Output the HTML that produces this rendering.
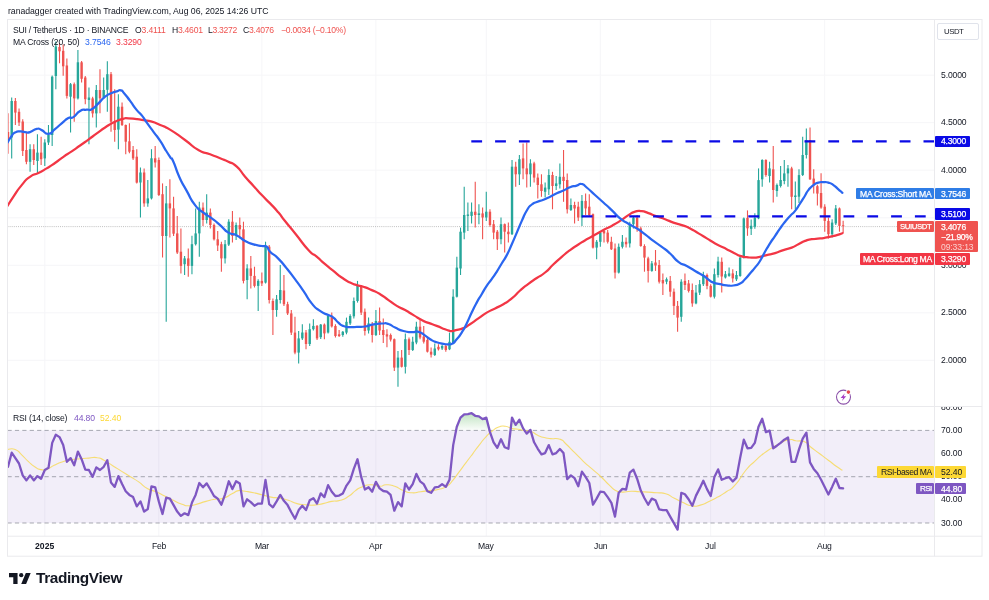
<!DOCTYPE html>
<html><head><meta charset="utf-8"><title>SUIUSDT chart</title>
<style>
html,body{margin:0;padding:0;background:#fff;}
body{width:989px;height:600px;position:relative;overflow:hidden;font-family:"Liberation Sans",sans-serif;}
.t{position:absolute;white-space:nowrap;line-height:12px;height:12px;font-family:"Liberation Sans",sans-serif;will-change:transform;}
</style></head><body>
<svg width="989" height="600" viewBox="0 0 989 600" style="position:absolute;left:0;top:0">
<rect x="0" y="0" width="989" height="600" fill="#ffffff"/>
<defs><clipPath id="cm"><rect x="8.0" y="20.0" width="926.0" height="386.0"/></clipPath>
<clipPath id="cr"><rect x="8.0" y="407.0" width="926.0" height="128.70000000000005"/></clipPath>
<clipPath id="ca"><rect x="934.5" y="407.3" width="47.5" height="128.70000000000005"/></clipPath>
<linearGradient id="ob" x1="0" y1="0" x2="0" y2="1"><stop offset="0" stop-color="#4caf50" stop-opacity="0.35"/><stop offset="1" stop-color="#4caf50" stop-opacity="0.02"/></linearGradient>
</defs>
<line x1="44.8" y1="19.5" x2="44.8" y2="536.2" stroke="#f6f6f8" stroke-width="1"/>
<line x1="158.8" y1="19.5" x2="158.8" y2="536.2" stroke="#f6f6f8" stroke-width="1"/>
<line x1="261.9" y1="19.5" x2="261.9" y2="536.2" stroke="#f6f6f8" stroke-width="1"/>
<line x1="375.9" y1="19.5" x2="375.9" y2="536.2" stroke="#f6f6f8" stroke-width="1"/>
<line x1="486.3" y1="19.5" x2="486.3" y2="536.2" stroke="#f6f6f8" stroke-width="1"/>
<line x1="600.3" y1="19.5" x2="600.3" y2="536.2" stroke="#f6f6f8" stroke-width="1"/>
<line x1="710.7" y1="19.5" x2="710.7" y2="536.2" stroke="#f6f6f8" stroke-width="1"/>
<line x1="824.7" y1="19.5" x2="824.7" y2="536.2" stroke="#f6f6f8" stroke-width="1"/>
<line x1="7.5" y1="75.2" x2="934.5" y2="75.2" stroke="#f6f6f8" stroke-width="1"/>
<line x1="7.5" y1="122.7" x2="934.5" y2="122.7" stroke="#f6f6f8" stroke-width="1"/>
<line x1="7.5" y1="170.2" x2="934.5" y2="170.2" stroke="#f6f6f8" stroke-width="1"/>
<line x1="7.5" y1="217.8" x2="934.5" y2="217.8" stroke="#f6f6f8" stroke-width="1"/>
<line x1="7.5" y1="265.3" x2="934.5" y2="265.3" stroke="#f6f6f8" stroke-width="1"/>
<line x1="7.5" y1="312.8" x2="934.5" y2="312.8" stroke="#f6f6f8" stroke-width="1"/>
<line x1="7.5" y1="360.3" x2="934.5" y2="360.3" stroke="#f6f6f8" stroke-width="1"/>
<rect x="7.5" y="430.4" width="927.0" height="92.6" fill="#7e57c2" fill-opacity="0.1"/>
<line x1="7.5" y1="430.4" x2="934.5" y2="430.4" stroke="#787b86" stroke-width="0.8" stroke-dasharray="4.2 3.2" stroke-opacity="0.8"/>
<line x1="7.5" y1="476.7" x2="934.5" y2="476.7" stroke="#787b86" stroke-width="0.8" stroke-dasharray="4.2 3.2" stroke-opacity="0.8"/>
<line x1="7.5" y1="523.0" x2="934.5" y2="523.0" stroke="#787b86" stroke-width="0.8" stroke-dasharray="4.2 3.2" stroke-opacity="0.8"/>
<rect x="7.5" y="19.5" width="974.5" height="536.7" fill="none" stroke="#eaeaed" stroke-width="1"/>
<line x1="934.5" y1="19.5" x2="934.5" y2="556.2" stroke="#eaeaed" stroke-width="1"/>
<line x1="7.5" y1="406.5" x2="982" y2="406.5" stroke="#eaeaed" stroke-width="1.2"/>
<line x1="7.5" y1="536.2" x2="982" y2="536.2" stroke="#eaeaed" stroke-width="1"/>
<g clip-path="url(#cm)">
<line x1="7.5" y1="226.6" x2="934.5" y2="226.6" stroke="#9e9e9e" stroke-width="0.8" stroke-dasharray="1 1.1" stroke-opacity="0.8"/>
<line x1="8.01" y1="113.2" x2="8.01" y2="153.7" stroke="#ef5350" stroke-width="1.1"/>
<rect x="6.81" y="132.0" width="2.4" height="8.0" fill="#ef5350"/>
<line x1="11.69" y1="97.6" x2="11.69" y2="158.4" stroke="#26a69a" stroke-width="1.1"/>
<rect x="10.49" y="101.0" width="2.4" height="36.5" fill="#26a69a"/>
<line x1="15.37" y1="98.0" x2="15.37" y2="125.0" stroke="#ef5350" stroke-width="1.1"/>
<rect x="14.17" y="101.0" width="2.4" height="11.6" fill="#ef5350"/>
<line x1="19.05" y1="108.4" x2="19.05" y2="126.0" stroke="#ef5350" stroke-width="1.1"/>
<rect x="17.85" y="111.8" width="2.4" height="10.7" fill="#ef5350"/>
<line x1="22.73" y1="119.3" x2="22.73" y2="156.0" stroke="#ef5350" stroke-width="1.1"/>
<rect x="21.53" y="121.5" width="2.4" height="29.5" fill="#ef5350"/>
<line x1="26.40" y1="131.7" x2="26.40" y2="164.3" stroke="#ef5350" stroke-width="1.1"/>
<rect x="25.20" y="150.0" width="2.4" height="11.8" fill="#ef5350"/>
<line x1="30.08" y1="144.2" x2="30.08" y2="171.8" stroke="#26a69a" stroke-width="1.1"/>
<rect x="28.88" y="149.2" width="2.4" height="12.6" fill="#26a69a"/>
<line x1="33.76" y1="144.2" x2="33.76" y2="165.0" stroke="#ef5350" stroke-width="1.1"/>
<rect x="32.56" y="149.2" width="2.4" height="10.8" fill="#ef5350"/>
<line x1="37.44" y1="134.2" x2="37.44" y2="173.4" stroke="#26a69a" stroke-width="1.1"/>
<rect x="36.24" y="152.6" width="2.4" height="8.4" fill="#26a69a"/>
<line x1="41.12" y1="136.7" x2="41.12" y2="165.0" stroke="#ef5350" stroke-width="1.1"/>
<rect x="39.92" y="152.6" width="2.4" height="6.6" fill="#ef5350"/>
<line x1="44.80" y1="139.2" x2="44.80" y2="166.0" stroke="#26a69a" stroke-width="1.1"/>
<rect x="43.60" y="142.5" width="2.4" height="15.9" fill="#26a69a"/>
<line x1="48.48" y1="125.0" x2="48.48" y2="145.0" stroke="#26a69a" stroke-width="1.1"/>
<rect x="47.28" y="135.0" width="2.4" height="7.5" fill="#26a69a"/>
<line x1="52.16" y1="75.5" x2="52.16" y2="146.0" stroke="#26a69a" stroke-width="1.1"/>
<rect x="50.96" y="76.7" width="2.4" height="58.3" fill="#26a69a"/>
<line x1="55.84" y1="41.5" x2="55.84" y2="89.2" stroke="#26a69a" stroke-width="1.1"/>
<rect x="54.64" y="46.5" width="2.4" height="29.5" fill="#26a69a"/>
<line x1="59.52" y1="43.0" x2="59.52" y2="63.3" stroke="#ef5350" stroke-width="1.1"/>
<rect x="58.32" y="47.0" width="2.4" height="4.3" fill="#ef5350"/>
<line x1="63.19" y1="44.6" x2="63.19" y2="75.8" stroke="#ef5350" stroke-width="1.1"/>
<rect x="61.99" y="50.8" width="2.4" height="15.5" fill="#ef5350"/>
<line x1="66.87" y1="58.4" x2="66.87" y2="98.4" stroke="#ef5350" stroke-width="1.1"/>
<rect x="65.67" y="65.5" width="2.4" height="30.4" fill="#ef5350"/>
<line x1="70.55" y1="83.0" x2="70.55" y2="132.5" stroke="#26a69a" stroke-width="1.1"/>
<rect x="69.35" y="84.2" width="2.4" height="12.5" fill="#26a69a"/>
<line x1="74.23" y1="82.5" x2="74.23" y2="121.7" stroke="#ef5350" stroke-width="1.1"/>
<rect x="73.03" y="84.2" width="2.4" height="14.2" fill="#ef5350"/>
<line x1="77.91" y1="50.0" x2="77.91" y2="99.5" stroke="#26a69a" stroke-width="1.1"/>
<rect x="76.71" y="62.3" width="2.4" height="36.1" fill="#26a69a"/>
<line x1="81.59" y1="60.9" x2="81.59" y2="82.5" stroke="#ef5350" stroke-width="1.1"/>
<rect x="80.39" y="62.3" width="2.4" height="16.5" fill="#ef5350"/>
<line x1="85.27" y1="76.0" x2="85.27" y2="104.2" stroke="#ef5350" stroke-width="1.1"/>
<rect x="84.07" y="77.5" width="2.4" height="21.7" fill="#ef5350"/>
<line x1="88.95" y1="87.5" x2="88.95" y2="144.2" stroke="#26a69a" stroke-width="1.1"/>
<rect x="87.75" y="97.5" width="2.4" height="2.5" fill="#26a69a"/>
<line x1="92.63" y1="96.7" x2="92.63" y2="117.5" stroke="#ef5350" stroke-width="1.1"/>
<rect x="91.43" y="98.4" width="2.4" height="15.0" fill="#ef5350"/>
<line x1="96.31" y1="85.0" x2="96.31" y2="127.5" stroke="#26a69a" stroke-width="1.1"/>
<rect x="95.11" y="90.0" width="2.4" height="23.4" fill="#26a69a"/>
<line x1="99.98" y1="69.2" x2="99.98" y2="113.3" stroke="#ef5350" stroke-width="1.1"/>
<rect x="98.78" y="90.0" width="2.4" height="8.3" fill="#ef5350"/>
<line x1="103.66" y1="77.5" x2="103.66" y2="99.0" stroke="#26a69a" stroke-width="1.1"/>
<rect x="102.46" y="90.0" width="2.4" height="7.5" fill="#26a69a"/>
<line x1="107.34" y1="61.3" x2="107.34" y2="111.7" stroke="#26a69a" stroke-width="1.1"/>
<rect x="106.14" y="74.2" width="2.4" height="15.6" fill="#26a69a"/>
<line x1="111.02" y1="72.0" x2="111.02" y2="131.7" stroke="#ef5350" stroke-width="1.1"/>
<rect x="109.82" y="74.2" width="2.4" height="47.5" fill="#ef5350"/>
<line x1="114.70" y1="89.2" x2="114.70" y2="141.7" stroke="#ef5350" stroke-width="1.1"/>
<rect x="113.50" y="121.7" width="2.4" height="8.3" fill="#ef5350"/>
<line x1="118.38" y1="94.2" x2="118.38" y2="149.2" stroke="#26a69a" stroke-width="1.1"/>
<rect x="117.18" y="106.7" width="2.4" height="22.9" fill="#26a69a"/>
<line x1="122.06" y1="102.6" x2="122.06" y2="126.0" stroke="#ef5350" stroke-width="1.1"/>
<rect x="120.86" y="106.7" width="2.4" height="18.3" fill="#ef5350"/>
<line x1="125.74" y1="124.6" x2="125.74" y2="154.2" stroke="#ef5350" stroke-width="1.1"/>
<rect x="124.54" y="125.0" width="2.4" height="16.7" fill="#ef5350"/>
<line x1="129.42" y1="123.3" x2="129.42" y2="153.3" stroke="#ef5350" stroke-width="1.1"/>
<rect x="128.22" y="141.3" width="2.4" height="10.4" fill="#ef5350"/>
<line x1="133.10" y1="145.9" x2="133.10" y2="160.0" stroke="#ef5350" stroke-width="1.1"/>
<rect x="131.90" y="150.0" width="2.4" height="8.4" fill="#ef5350"/>
<line x1="136.77" y1="149.2" x2="136.77" y2="183.5" stroke="#ef5350" stroke-width="1.1"/>
<rect x="135.57" y="156.7" width="2.4" height="25.9" fill="#ef5350"/>
<line x1="140.45" y1="167.5" x2="140.45" y2="217.6" stroke="#26a69a" stroke-width="1.1"/>
<rect x="139.25" y="172.5" width="2.4" height="10.0" fill="#26a69a"/>
<line x1="144.13" y1="168.4" x2="144.13" y2="206.8" stroke="#ef5350" stroke-width="1.1"/>
<rect x="142.93" y="172.5" width="2.4" height="30.9" fill="#ef5350"/>
<line x1="147.81" y1="180.0" x2="147.81" y2="206.8" stroke="#26a69a" stroke-width="1.1"/>
<rect x="146.61" y="198.4" width="2.4" height="5.0" fill="#26a69a"/>
<line x1="151.49" y1="149.2" x2="151.49" y2="199.5" stroke="#26a69a" stroke-width="1.1"/>
<rect x="150.29" y="158.3" width="2.4" height="40.1" fill="#26a69a"/>
<line x1="155.17" y1="145.9" x2="155.17" y2="167.5" stroke="#ef5350" stroke-width="1.1"/>
<rect x="153.97" y="158.3" width="2.4" height="4.2" fill="#ef5350"/>
<line x1="158.85" y1="157.5" x2="158.85" y2="196.0" stroke="#ef5350" stroke-width="1.1"/>
<rect x="157.65" y="160.0" width="2.4" height="35.0" fill="#ef5350"/>
<line x1="162.53" y1="183.4" x2="162.53" y2="257.5" stroke="#ef5350" stroke-width="1.1"/>
<rect x="161.33" y="194.2" width="2.4" height="41.8" fill="#ef5350"/>
<line x1="166.21" y1="185.9" x2="166.21" y2="321.8" stroke="#26a69a" stroke-width="1.1"/>
<rect x="165.01" y="203.4" width="2.4" height="32.6" fill="#26a69a"/>
<line x1="169.89" y1="179.2" x2="169.89" y2="237.5" stroke="#ef5350" stroke-width="1.1"/>
<rect x="168.69" y="203.4" width="2.4" height="5.0" fill="#ef5350"/>
<line x1="173.56" y1="196.7" x2="173.56" y2="236.0" stroke="#ef5350" stroke-width="1.1"/>
<rect x="172.37" y="208.4" width="2.4" height="25.3" fill="#ef5350"/>
<line x1="177.24" y1="216.0" x2="177.24" y2="254.0" stroke="#ef5350" stroke-width="1.1"/>
<rect x="176.04" y="233.4" width="2.4" height="19.1" fill="#ef5350"/>
<line x1="180.92" y1="228.4" x2="180.92" y2="273.4" stroke="#ef5350" stroke-width="1.1"/>
<rect x="179.72" y="251.7" width="2.4" height="14.2" fill="#ef5350"/>
<line x1="184.60" y1="255.9" x2="184.60" y2="275.0" stroke="#26a69a" stroke-width="1.1"/>
<rect x="183.40" y="258.4" width="2.4" height="5.8" fill="#26a69a"/>
<line x1="188.28" y1="248.4" x2="188.28" y2="276.7" stroke="#ef5350" stroke-width="1.1"/>
<rect x="187.08" y="258.4" width="2.4" height="7.5" fill="#ef5350"/>
<line x1="191.96" y1="235.8" x2="191.96" y2="274.2" stroke="#26a69a" stroke-width="1.1"/>
<rect x="190.76" y="244.2" width="2.4" height="21.7" fill="#26a69a"/>
<line x1="195.64" y1="208.4" x2="195.64" y2="245.5" stroke="#26a69a" stroke-width="1.1"/>
<rect x="194.44" y="233.4" width="2.4" height="10.8" fill="#26a69a"/>
<line x1="199.32" y1="201.7" x2="199.32" y2="256.7" stroke="#26a69a" stroke-width="1.1"/>
<rect x="198.12" y="207.6" width="2.4" height="25.8" fill="#26a69a"/>
<line x1="203.00" y1="202.6" x2="203.00" y2="226.0" stroke="#ef5350" stroke-width="1.1"/>
<rect x="201.80" y="207.6" width="2.4" height="12.4" fill="#ef5350"/>
<line x1="206.68" y1="194.2" x2="206.68" y2="223.4" stroke="#26a69a" stroke-width="1.1"/>
<rect x="205.48" y="212.6" width="2.4" height="7.4" fill="#26a69a"/>
<line x1="210.35" y1="208.4" x2="210.35" y2="228.4" stroke="#ef5350" stroke-width="1.1"/>
<rect x="209.15" y="212.6" width="2.4" height="12.4" fill="#ef5350"/>
<line x1="214.03" y1="223.5" x2="214.03" y2="240.5" stroke="#ef5350" stroke-width="1.1"/>
<rect x="212.83" y="225.0" width="2.4" height="14.3" fill="#ef5350"/>
<line x1="217.71" y1="231.0" x2="217.71" y2="250.9" stroke="#ef5350" stroke-width="1.1"/>
<rect x="216.51" y="239.3" width="2.4" height="6.2" fill="#ef5350"/>
<line x1="221.39" y1="241.7" x2="221.39" y2="271.7" stroke="#ef5350" stroke-width="1.1"/>
<rect x="220.19" y="244.2" width="2.4" height="14.2" fill="#ef5350"/>
<line x1="225.07" y1="240.0" x2="225.07" y2="263.4" stroke="#26a69a" stroke-width="1.1"/>
<rect x="223.87" y="244.2" width="2.4" height="14.2" fill="#26a69a"/>
<line x1="228.75" y1="219.2" x2="228.75" y2="246.0" stroke="#26a69a" stroke-width="1.1"/>
<rect x="227.55" y="221.7" width="2.4" height="22.9" fill="#26a69a"/>
<line x1="232.43" y1="210.9" x2="232.43" y2="242.5" stroke="#ef5350" stroke-width="1.1"/>
<rect x="231.23" y="221.7" width="2.4" height="14.3" fill="#ef5350"/>
<line x1="236.11" y1="222.6" x2="236.11" y2="240.0" stroke="#26a69a" stroke-width="1.1"/>
<rect x="234.91" y="225.0" width="2.4" height="11.0" fill="#26a69a"/>
<line x1="239.79" y1="217.6" x2="239.79" y2="238.5" stroke="#ef5350" stroke-width="1.1"/>
<rect x="238.59" y="225.0" width="2.4" height="4.3" fill="#ef5350"/>
<line x1="243.47" y1="221.7" x2="243.47" y2="283.4" stroke="#ef5350" stroke-width="1.1"/>
<rect x="242.27" y="229.3" width="2.4" height="51.6" fill="#ef5350"/>
<line x1="247.14" y1="264.2" x2="247.14" y2="299.3" stroke="#26a69a" stroke-width="1.1"/>
<rect x="245.94" y="268.4" width="2.4" height="11.6" fill="#26a69a"/>
<line x1="250.82" y1="255.9" x2="250.82" y2="288.4" stroke="#ef5350" stroke-width="1.1"/>
<rect x="249.62" y="268.4" width="2.4" height="7.5" fill="#ef5350"/>
<line x1="254.50" y1="266.7" x2="254.50" y2="287.5" stroke="#ef5350" stroke-width="1.1"/>
<rect x="253.30" y="275.9" width="2.4" height="10.0" fill="#ef5350"/>
<line x1="258.18" y1="279.2" x2="258.18" y2="311.0" stroke="#26a69a" stroke-width="1.1"/>
<rect x="256.98" y="280.9" width="2.4" height="5.0" fill="#26a69a"/>
<line x1="261.86" y1="272.6" x2="261.86" y2="286.0" stroke="#ef5350" stroke-width="1.1"/>
<rect x="260.66" y="280.9" width="2.4" height="2.5" fill="#ef5350"/>
<line x1="265.54" y1="241.7" x2="265.54" y2="283.5" stroke="#26a69a" stroke-width="1.1"/>
<rect x="264.34" y="246.7" width="2.4" height="35.9" fill="#26a69a"/>
<line x1="269.22" y1="245.0" x2="269.22" y2="303.5" stroke="#ef5350" stroke-width="1.1"/>
<rect x="268.02" y="246.7" width="2.4" height="53.3" fill="#ef5350"/>
<line x1="272.90" y1="298.4" x2="272.90" y2="335.0" stroke="#ef5350" stroke-width="1.1"/>
<rect x="271.70" y="301.0" width="2.4" height="9.0" fill="#ef5350"/>
<line x1="276.58" y1="295.0" x2="276.58" y2="316.8" stroke="#26a69a" stroke-width="1.1"/>
<rect x="275.38" y="299.3" width="2.4" height="10.7" fill="#26a69a"/>
<line x1="280.26" y1="265.0" x2="280.26" y2="303.4" stroke="#26a69a" stroke-width="1.1"/>
<rect x="279.06" y="290.0" width="2.4" height="10.0" fill="#26a69a"/>
<line x1="283.94" y1="275.0" x2="283.94" y2="306.0" stroke="#ef5350" stroke-width="1.1"/>
<rect x="282.74" y="290.5" width="2.4" height="13.7" fill="#ef5350"/>
<line x1="287.61" y1="301.7" x2="287.61" y2="315.0" stroke="#ef5350" stroke-width="1.1"/>
<rect x="286.41" y="304.2" width="2.4" height="9.2" fill="#ef5350"/>
<line x1="291.29" y1="310.0" x2="291.29" y2="335.0" stroke="#ef5350" stroke-width="1.1"/>
<rect x="290.09" y="313.4" width="2.4" height="19.2" fill="#ef5350"/>
<line x1="294.97" y1="316.8" x2="294.97" y2="354.2" stroke="#ef5350" stroke-width="1.1"/>
<rect x="293.77" y="332.6" width="2.4" height="20.0" fill="#ef5350"/>
<line x1="298.65" y1="330.9" x2="298.65" y2="363.4" stroke="#26a69a" stroke-width="1.1"/>
<rect x="297.45" y="338.4" width="2.4" height="14.2" fill="#26a69a"/>
<line x1="302.33" y1="324.2" x2="302.33" y2="340.0" stroke="#26a69a" stroke-width="1.1"/>
<rect x="301.13" y="332.5" width="2.4" height="5.9" fill="#26a69a"/>
<line x1="306.01" y1="330.0" x2="306.01" y2="349.2" stroke="#ef5350" stroke-width="1.1"/>
<rect x="304.81" y="332.5" width="2.4" height="11.5" fill="#ef5350"/>
<line x1="309.69" y1="323.4" x2="309.69" y2="346.0" stroke="#26a69a" stroke-width="1.1"/>
<rect x="308.49" y="329.2" width="2.4" height="14.8" fill="#26a69a"/>
<line x1="313.37" y1="319.2" x2="313.37" y2="330.5" stroke="#26a69a" stroke-width="1.1"/>
<rect x="312.17" y="325.9" width="2.4" height="3.3" fill="#26a69a"/>
<line x1="317.05" y1="325.0" x2="317.05" y2="340.0" stroke="#ef5350" stroke-width="1.1"/>
<rect x="315.85" y="325.9" width="2.4" height="12.5" fill="#ef5350"/>
<line x1="320.73" y1="324.0" x2="320.73" y2="339.0" stroke="#26a69a" stroke-width="1.1"/>
<rect x="319.53" y="324.6" width="2.4" height="12.6" fill="#26a69a"/>
<line x1="324.40" y1="323.4" x2="324.40" y2="339.2" stroke="#ef5350" stroke-width="1.1"/>
<rect x="323.20" y="324.6" width="2.4" height="8.8" fill="#ef5350"/>
<line x1="328.08" y1="314.2" x2="328.08" y2="333.5" stroke="#26a69a" stroke-width="1.1"/>
<rect x="326.88" y="315.9" width="2.4" height="16.6" fill="#26a69a"/>
<line x1="331.76" y1="312.5" x2="331.76" y2="327.6" stroke="#ef5350" stroke-width="1.1"/>
<rect x="330.56" y="315.9" width="2.4" height="10.5" fill="#ef5350"/>
<line x1="335.44" y1="324.3" x2="335.44" y2="337.6" stroke="#ef5350" stroke-width="1.1"/>
<rect x="334.24" y="326.0" width="2.4" height="10.0" fill="#ef5350"/>
<line x1="339.12" y1="330.0" x2="339.12" y2="337.0" stroke="#ef5350" stroke-width="1.1"/>
<rect x="337.92" y="334.3" width="2.4" height="1.7" fill="#ef5350"/>
<line x1="342.80" y1="331.0" x2="342.80" y2="336.8" stroke="#26a69a" stroke-width="1.1"/>
<rect x="341.60" y="331.8" width="2.4" height="3.2" fill="#26a69a"/>
<line x1="346.48" y1="317.6" x2="346.48" y2="334.3" stroke="#26a69a" stroke-width="1.1"/>
<rect x="345.28" y="321.8" width="2.4" height="10.8" fill="#26a69a"/>
<line x1="350.16" y1="314.3" x2="350.16" y2="325.0" stroke="#26a69a" stroke-width="1.1"/>
<rect x="348.96" y="316.0" width="2.4" height="7.4" fill="#26a69a"/>
<line x1="353.84" y1="297.6" x2="353.84" y2="318.4" stroke="#26a69a" stroke-width="1.1"/>
<rect x="352.64" y="301.0" width="2.4" height="15.3" fill="#26a69a"/>
<line x1="357.51" y1="280.9" x2="357.51" y2="302.6" stroke="#26a69a" stroke-width="1.1"/>
<rect x="356.31" y="285.9" width="2.4" height="15.1" fill="#26a69a"/>
<line x1="361.19" y1="285.0" x2="361.19" y2="315.0" stroke="#ef5350" stroke-width="1.1"/>
<rect x="359.99" y="285.9" width="2.4" height="26.7" fill="#ef5350"/>
<line x1="364.87" y1="308.4" x2="364.87" y2="335.5" stroke="#ef5350" stroke-width="1.1"/>
<rect x="363.67" y="311.8" width="2.4" height="19.2" fill="#ef5350"/>
<line x1="368.55" y1="317.6" x2="368.55" y2="333.4" stroke="#26a69a" stroke-width="1.1"/>
<rect x="367.35" y="323.4" width="2.4" height="7.1" fill="#26a69a"/>
<line x1="372.23" y1="322.0" x2="372.23" y2="342.6" stroke="#ef5350" stroke-width="1.1"/>
<rect x="371.03" y="324.6" width="2.4" height="10.4" fill="#ef5350"/>
<line x1="375.91" y1="310.0" x2="375.91" y2="336.0" stroke="#26a69a" stroke-width="1.1"/>
<rect x="374.71" y="321.0" width="2.4" height="14.0" fill="#26a69a"/>
<line x1="379.59" y1="307.6" x2="379.59" y2="335.0" stroke="#ef5350" stroke-width="1.1"/>
<rect x="378.39" y="321.0" width="2.4" height="9.5" fill="#ef5350"/>
<line x1="383.27" y1="318.4" x2="383.27" y2="343.0" stroke="#ef5350" stroke-width="1.1"/>
<rect x="382.07" y="330.0" width="2.4" height="5.0" fill="#ef5350"/>
<line x1="386.95" y1="329.2" x2="386.95" y2="347.2" stroke="#ef5350" stroke-width="1.1"/>
<rect x="385.75" y="334.3" width="2.4" height="2.2" fill="#ef5350"/>
<line x1="390.63" y1="333.4" x2="390.63" y2="341.5" stroke="#ef5350" stroke-width="1.1"/>
<rect x="389.43" y="335.0" width="2.4" height="4.6" fill="#ef5350"/>
<line x1="394.31" y1="338.4" x2="394.31" y2="371.0" stroke="#ef5350" stroke-width="1.1"/>
<rect x="393.11" y="339.2" width="2.4" height="28.4" fill="#ef5350"/>
<line x1="397.98" y1="350.9" x2="397.98" y2="386.8" stroke="#26a69a" stroke-width="1.1"/>
<rect x="396.78" y="357.6" width="2.4" height="10.0" fill="#26a69a"/>
<line x1="401.66" y1="350.0" x2="401.66" y2="367.6" stroke="#ef5350" stroke-width="1.1"/>
<rect x="400.46" y="357.6" width="2.4" height="9.2" fill="#ef5350"/>
<line x1="405.34" y1="333.4" x2="405.34" y2="373.4" stroke="#26a69a" stroke-width="1.1"/>
<rect x="404.14" y="339.2" width="2.4" height="27.6" fill="#26a69a"/>
<line x1="409.02" y1="337.5" x2="409.02" y2="355.0" stroke="#ef5350" stroke-width="1.1"/>
<rect x="407.82" y="339.2" width="2.4" height="10.8" fill="#ef5350"/>
<line x1="412.70" y1="336.7" x2="412.70" y2="351.0" stroke="#26a69a" stroke-width="1.1"/>
<rect x="411.50" y="341.7" width="2.4" height="8.3" fill="#26a69a"/>
<line x1="416.38" y1="321.7" x2="416.38" y2="344.2" stroke="#26a69a" stroke-width="1.1"/>
<rect x="415.18" y="326.7" width="2.4" height="15.8" fill="#26a69a"/>
<line x1="420.06" y1="320.0" x2="420.06" y2="339.2" stroke="#ef5350" stroke-width="1.1"/>
<rect x="418.86" y="326.7" width="2.4" height="10.8" fill="#ef5350"/>
<line x1="423.74" y1="325.9" x2="423.74" y2="343.4" stroke="#ef5350" stroke-width="1.1"/>
<rect x="422.54" y="336.5" width="2.4" height="5.2" fill="#ef5350"/>
<line x1="427.42" y1="336.7" x2="427.42" y2="352.6" stroke="#ef5350" stroke-width="1.1"/>
<rect x="426.22" y="340.0" width="2.4" height="11.7" fill="#ef5350"/>
<line x1="431.09" y1="347.6" x2="431.09" y2="357.6" stroke="#ef5350" stroke-width="1.1"/>
<rect x="429.89" y="351.7" width="2.4" height="2.9" fill="#ef5350"/>
<line x1="434.77" y1="343.4" x2="434.77" y2="356.0" stroke="#26a69a" stroke-width="1.1"/>
<rect x="433.57" y="348.5" width="2.4" height="6.5" fill="#26a69a"/>
<line x1="438.45" y1="344.3" x2="438.45" y2="350.5" stroke="#ef5350" stroke-width="1.1"/>
<rect x="437.25" y="346.8" width="2.4" height="2.5" fill="#ef5350"/>
<line x1="442.13" y1="344.5" x2="442.13" y2="350.0" stroke="#26a69a" stroke-width="1.1"/>
<rect x="440.93" y="346.0" width="2.4" height="2.5" fill="#26a69a"/>
<line x1="445.81" y1="344.3" x2="445.81" y2="351.8" stroke="#ef5350" stroke-width="1.1"/>
<rect x="444.61" y="346.0" width="2.4" height="4.0" fill="#ef5350"/>
<line x1="449.49" y1="332.6" x2="449.49" y2="350.1" stroke="#26a69a" stroke-width="1.1"/>
<rect x="448.29" y="341.8" width="2.4" height="7.5" fill="#26a69a"/>
<line x1="453.17" y1="289.2" x2="453.17" y2="344.3" stroke="#26a69a" stroke-width="1.1"/>
<rect x="451.97" y="296.7" width="2.4" height="46.8" fill="#26a69a"/>
<line x1="456.85" y1="256.8" x2="456.85" y2="297.5" stroke="#26a69a" stroke-width="1.1"/>
<rect x="455.65" y="267.6" width="2.4" height="29.1" fill="#26a69a"/>
<line x1="460.53" y1="227.6" x2="460.53" y2="275.0" stroke="#26a69a" stroke-width="1.1"/>
<rect x="459.33" y="231.7" width="2.4" height="36.8" fill="#26a69a"/>
<line x1="464.21" y1="186.8" x2="464.21" y2="239.2" stroke="#26a69a" stroke-width="1.1"/>
<rect x="463.01" y="215.0" width="2.4" height="17.6" fill="#26a69a"/>
<line x1="467.88" y1="202.5" x2="467.88" y2="231.0" stroke="#26a69a" stroke-width="1.1"/>
<rect x="466.69" y="214.5" width="2.4" height="1.4" fill="#26a69a"/>
<line x1="471.56" y1="202.5" x2="471.56" y2="223.4" stroke="#26a69a" stroke-width="1.1"/>
<rect x="470.36" y="211.7" width="2.4" height="4.2" fill="#26a69a"/>
<line x1="475.24" y1="181.8" x2="475.24" y2="227.6" stroke="#ef5350" stroke-width="1.1"/>
<rect x="474.04" y="211.7" width="2.4" height="3.3" fill="#ef5350"/>
<line x1="478.92" y1="204.2" x2="478.92" y2="224.2" stroke="#26a69a" stroke-width="1.1"/>
<rect x="477.72" y="213.4" width="2.4" height="1.6" fill="#26a69a"/>
<line x1="482.60" y1="207.5" x2="482.60" y2="239.2" stroke="#ef5350" stroke-width="1.1"/>
<rect x="481.40" y="213.4" width="2.4" height="4.1" fill="#ef5350"/>
<line x1="486.28" y1="191.8" x2="486.28" y2="220.9" stroke="#26a69a" stroke-width="1.1"/>
<rect x="485.08" y="211.7" width="2.4" height="5.8" fill="#26a69a"/>
<line x1="489.96" y1="209.2" x2="489.96" y2="226.7" stroke="#ef5350" stroke-width="1.1"/>
<rect x="488.76" y="211.7" width="2.4" height="13.3" fill="#ef5350"/>
<line x1="493.64" y1="220.0" x2="493.64" y2="239.2" stroke="#ef5350" stroke-width="1.1"/>
<rect x="492.44" y="224.2" width="2.4" height="8.4" fill="#ef5350"/>
<line x1="497.32" y1="230.0" x2="497.32" y2="250.0" stroke="#ef5350" stroke-width="1.1"/>
<rect x="496.12" y="231.7" width="2.4" height="7.5" fill="#ef5350"/>
<line x1="501.00" y1="217.5" x2="501.00" y2="244.3" stroke="#26a69a" stroke-width="1.1"/>
<rect x="499.80" y="224.2" width="2.4" height="15.0" fill="#26a69a"/>
<line x1="504.68" y1="223.4" x2="504.68" y2="252.6" stroke="#ef5350" stroke-width="1.1"/>
<rect x="503.48" y="224.2" width="2.4" height="7.5" fill="#ef5350"/>
<line x1="508.35" y1="222.6" x2="508.35" y2="242.6" stroke="#ef5350" stroke-width="1.1"/>
<rect x="507.15" y="231.7" width="2.4" height="2.5" fill="#ef5350"/>
<line x1="512.03" y1="160.0" x2="512.03" y2="235.0" stroke="#26a69a" stroke-width="1.1"/>
<rect x="510.83" y="166.7" width="2.4" height="67.5" fill="#26a69a"/>
<line x1="515.71" y1="161.7" x2="515.71" y2="186.8" stroke="#ef5350" stroke-width="1.1"/>
<rect x="514.51" y="166.7" width="2.4" height="7.6" fill="#ef5350"/>
<line x1="519.39" y1="155.0" x2="519.39" y2="185.0" stroke="#26a69a" stroke-width="1.1"/>
<rect x="518.19" y="159.2" width="2.4" height="15.1" fill="#26a69a"/>
<line x1="523.07" y1="143.4" x2="523.07" y2="179.3" stroke="#ef5350" stroke-width="1.1"/>
<rect x="521.87" y="158.4" width="2.4" height="10.0" fill="#ef5350"/>
<line x1="526.75" y1="142.5" x2="526.75" y2="187.6" stroke="#ef5350" stroke-width="1.1"/>
<rect x="525.55" y="168.4" width="2.4" height="5.9" fill="#ef5350"/>
<line x1="530.43" y1="159.2" x2="530.43" y2="186.8" stroke="#26a69a" stroke-width="1.1"/>
<rect x="529.23" y="163.4" width="2.4" height="10.9" fill="#26a69a"/>
<line x1="534.11" y1="161.7" x2="534.11" y2="182.6" stroke="#ef5350" stroke-width="1.1"/>
<rect x="532.91" y="163.4" width="2.4" height="14.2" fill="#ef5350"/>
<line x1="537.79" y1="173.4" x2="537.79" y2="198.5" stroke="#ef5350" stroke-width="1.1"/>
<rect x="536.59" y="177.6" width="2.4" height="7.4" fill="#ef5350"/>
<line x1="541.46" y1="174.3" x2="541.46" y2="196.8" stroke="#ef5350" stroke-width="1.1"/>
<rect x="540.26" y="184.3" width="2.4" height="6.7" fill="#ef5350"/>
<line x1="545.14" y1="182.6" x2="545.14" y2="197.6" stroke="#26a69a" stroke-width="1.1"/>
<rect x="543.94" y="187.6" width="2.4" height="4.2" fill="#26a69a"/>
<line x1="548.82" y1="169.2" x2="548.82" y2="195.0" stroke="#26a69a" stroke-width="1.1"/>
<rect x="547.62" y="175.0" width="2.4" height="14.3" fill="#26a69a"/>
<line x1="552.50" y1="171.8" x2="552.50" y2="209.3" stroke="#ef5350" stroke-width="1.1"/>
<rect x="551.30" y="175.0" width="2.4" height="11.0" fill="#ef5350"/>
<line x1="556.18" y1="176.0" x2="556.18" y2="190.0" stroke="#26a69a" stroke-width="1.1"/>
<rect x="554.98" y="183.4" width="2.4" height="2.6" fill="#26a69a"/>
<line x1="559.86" y1="163.4" x2="559.86" y2="188.4" stroke="#26a69a" stroke-width="1.1"/>
<rect x="558.66" y="176.8" width="2.4" height="7.5" fill="#26a69a"/>
<line x1="563.54" y1="150.0" x2="563.54" y2="201.8" stroke="#ef5350" stroke-width="1.1"/>
<rect x="562.34" y="176.8" width="2.4" height="4.2" fill="#ef5350"/>
<line x1="567.22" y1="173.4" x2="567.22" y2="213.5" stroke="#ef5350" stroke-width="1.1"/>
<rect x="566.02" y="180.0" width="2.4" height="29.3" fill="#ef5350"/>
<line x1="570.90" y1="198.5" x2="570.90" y2="211.0" stroke="#26a69a" stroke-width="1.1"/>
<rect x="569.70" y="205.0" width="2.4" height="5.0" fill="#26a69a"/>
<line x1="574.58" y1="201.8" x2="574.58" y2="223.4" stroke="#ef5350" stroke-width="1.1"/>
<rect x="573.38" y="205.0" width="2.4" height="3.5" fill="#ef5350"/>
<line x1="578.25" y1="201.7" x2="578.25" y2="220.9" stroke="#ef5350" stroke-width="1.1"/>
<rect x="577.05" y="206.7" width="2.4" height="10.8" fill="#ef5350"/>
<line x1="581.93" y1="195.0" x2="581.93" y2="225.9" stroke="#26a69a" stroke-width="1.1"/>
<rect x="580.73" y="200.9" width="2.4" height="16.6" fill="#26a69a"/>
<line x1="585.61" y1="193.4" x2="585.61" y2="215.0" stroke="#ef5350" stroke-width="1.1"/>
<rect x="584.41" y="200.9" width="2.4" height="7.5" fill="#ef5350"/>
<line x1="589.29" y1="194.2" x2="589.29" y2="216.0" stroke="#ef5350" stroke-width="1.1"/>
<rect x="588.09" y="206.7" width="2.4" height="8.3" fill="#ef5350"/>
<line x1="592.97" y1="213.4" x2="592.97" y2="248.5" stroke="#ef5350" stroke-width="1.1"/>
<rect x="591.77" y="214.2" width="2.4" height="33.4" fill="#ef5350"/>
<line x1="596.65" y1="240.0" x2="596.65" y2="259.3" stroke="#26a69a" stroke-width="1.1"/>
<rect x="595.45" y="241.8" width="2.4" height="5.8" fill="#26a69a"/>
<line x1="600.33" y1="231.0" x2="600.33" y2="246.8" stroke="#26a69a" stroke-width="1.1"/>
<rect x="599.13" y="232.6" width="2.4" height="9.2" fill="#26a69a"/>
<line x1="604.01" y1="230.0" x2="604.01" y2="242.6" stroke="#ef5350" stroke-width="1.1"/>
<rect x="602.81" y="231.0" width="2.4" height="2.4" fill="#ef5350"/>
<line x1="607.69" y1="230.0" x2="607.69" y2="243.4" stroke="#ef5350" stroke-width="1.1"/>
<rect x="606.49" y="232.6" width="2.4" height="9.2" fill="#ef5350"/>
<line x1="611.37" y1="236.8" x2="611.37" y2="250.1" stroke="#ef5350" stroke-width="1.1"/>
<rect x="610.17" y="241.8" width="2.4" height="7.5" fill="#ef5350"/>
<line x1="615.04" y1="243.4" x2="615.04" y2="278.4" stroke="#ef5350" stroke-width="1.1"/>
<rect x="613.84" y="248.5" width="2.4" height="24.1" fill="#ef5350"/>
<line x1="618.72" y1="243.4" x2="618.72" y2="273.5" stroke="#26a69a" stroke-width="1.1"/>
<rect x="617.52" y="246.8" width="2.4" height="25.8" fill="#26a69a"/>
<line x1="622.40" y1="235.0" x2="622.40" y2="248.4" stroke="#26a69a" stroke-width="1.1"/>
<rect x="621.20" y="241.8" width="2.4" height="5.0" fill="#26a69a"/>
<line x1="626.08" y1="237.6" x2="626.08" y2="247.6" stroke="#ef5350" stroke-width="1.1"/>
<rect x="624.88" y="241.8" width="2.4" height="2.5" fill="#ef5350"/>
<line x1="629.76" y1="221.7" x2="629.76" y2="247.6" stroke="#26a69a" stroke-width="1.1"/>
<rect x="628.56" y="224.2" width="2.4" height="19.2" fill="#26a69a"/>
<line x1="633.44" y1="215.9" x2="633.44" y2="228.4" stroke="#26a69a" stroke-width="1.1"/>
<rect x="632.24" y="217.6" width="2.4" height="6.6" fill="#26a69a"/>
<line x1="637.12" y1="215.0" x2="637.12" y2="231.8" stroke="#ef5350" stroke-width="1.1"/>
<rect x="635.92" y="217.6" width="2.4" height="10.8" fill="#ef5350"/>
<line x1="640.80" y1="226.7" x2="640.80" y2="246.8" stroke="#ef5350" stroke-width="1.1"/>
<rect x="639.60" y="228.4" width="2.4" height="17.6" fill="#ef5350"/>
<line x1="644.48" y1="244.3" x2="644.48" y2="271.7" stroke="#ef5350" stroke-width="1.1"/>
<rect x="643.28" y="246.0" width="2.4" height="11.6" fill="#ef5350"/>
<line x1="648.16" y1="256.7" x2="648.16" y2="282.6" stroke="#ef5350" stroke-width="1.1"/>
<rect x="646.96" y="258.4" width="2.4" height="12.5" fill="#ef5350"/>
<line x1="651.83" y1="260.9" x2="651.83" y2="271.8" stroke="#26a69a" stroke-width="1.1"/>
<rect x="650.63" y="263.4" width="2.4" height="7.5" fill="#26a69a"/>
<line x1="655.51" y1="250.0" x2="655.51" y2="270.9" stroke="#ef5350" stroke-width="1.1"/>
<rect x="654.31" y="262.5" width="2.4" height="3.0" fill="#ef5350"/>
<line x1="659.19" y1="260.0" x2="659.19" y2="283.4" stroke="#ef5350" stroke-width="1.1"/>
<rect x="657.99" y="265.0" width="2.4" height="16.7" fill="#ef5350"/>
<line x1="662.87" y1="273.4" x2="662.87" y2="295.0" stroke="#ef5350" stroke-width="1.1"/>
<rect x="661.67" y="280.0" width="2.4" height="3.4" fill="#ef5350"/>
<line x1="666.55" y1="277.6" x2="666.55" y2="284.2" stroke="#26a69a" stroke-width="1.1"/>
<rect x="665.35" y="279.2" width="2.4" height="2.5" fill="#26a69a"/>
<line x1="670.23" y1="275.9" x2="670.23" y2="296.7" stroke="#ef5350" stroke-width="1.1"/>
<rect x="669.03" y="280.9" width="2.4" height="10.8" fill="#ef5350"/>
<line x1="673.91" y1="288.4" x2="673.91" y2="315.0" stroke="#ef5350" stroke-width="1.1"/>
<rect x="672.71" y="291.7" width="2.4" height="14.2" fill="#ef5350"/>
<line x1="677.59" y1="300.9" x2="677.59" y2="331.8" stroke="#ef5350" stroke-width="1.1"/>
<rect x="676.39" y="305.9" width="2.4" height="11.7" fill="#ef5350"/>
<line x1="681.27" y1="279.2" x2="681.27" y2="321.8" stroke="#26a69a" stroke-width="1.1"/>
<rect x="680.07" y="281.7" width="2.4" height="35.1" fill="#26a69a"/>
<line x1="684.95" y1="273.4" x2="684.95" y2="290.0" stroke="#ef5350" stroke-width="1.1"/>
<rect x="683.75" y="280.9" width="2.4" height="4.1" fill="#ef5350"/>
<line x1="688.62" y1="280.0" x2="688.62" y2="292.6" stroke="#ef5350" stroke-width="1.1"/>
<rect x="687.42" y="283.4" width="2.4" height="7.5" fill="#ef5350"/>
<line x1="692.30" y1="283.4" x2="692.30" y2="306.8" stroke="#ef5350" stroke-width="1.1"/>
<rect x="691.10" y="290.0" width="2.4" height="13.4" fill="#ef5350"/>
<line x1="695.98" y1="285.0" x2="695.98" y2="304.3" stroke="#26a69a" stroke-width="1.1"/>
<rect x="694.78" y="292.6" width="2.4" height="10.8" fill="#26a69a"/>
<line x1="699.66" y1="280.0" x2="699.66" y2="295.0" stroke="#26a69a" stroke-width="1.1"/>
<rect x="698.46" y="284.2" width="2.4" height="8.4" fill="#26a69a"/>
<line x1="703.34" y1="271.7" x2="703.34" y2="285.9" stroke="#26a69a" stroke-width="1.1"/>
<rect x="702.14" y="275.0" width="2.4" height="9.2" fill="#26a69a"/>
<line x1="707.02" y1="273.4" x2="707.02" y2="289.2" stroke="#ef5350" stroke-width="1.1"/>
<rect x="705.82" y="275.0" width="2.4" height="10.9" fill="#ef5350"/>
<line x1="710.70" y1="284.2" x2="710.70" y2="297.6" stroke="#ef5350" stroke-width="1.1"/>
<rect x="709.50" y="285.9" width="2.4" height="10.8" fill="#ef5350"/>
<line x1="714.38" y1="268.4" x2="714.38" y2="298.4" stroke="#26a69a" stroke-width="1.1"/>
<rect x="713.18" y="274.2" width="2.4" height="22.5" fill="#26a69a"/>
<line x1="718.06" y1="256.7" x2="718.06" y2="277.5" stroke="#26a69a" stroke-width="1.1"/>
<rect x="716.86" y="261.5" width="2.4" height="13.5" fill="#26a69a"/>
<line x1="721.74" y1="257.5" x2="721.74" y2="292.6" stroke="#ef5350" stroke-width="1.1"/>
<rect x="720.54" y="261.8" width="2.4" height="14.7" fill="#ef5350"/>
<line x1="725.41" y1="270.9" x2="725.41" y2="278.4" stroke="#26a69a" stroke-width="1.1"/>
<rect x="724.21" y="274.2" width="2.4" height="3.3" fill="#26a69a"/>
<line x1="729.09" y1="267.5" x2="729.09" y2="276.8" stroke="#26a69a" stroke-width="1.1"/>
<rect x="727.89" y="273.4" width="2.4" height="2.5" fill="#26a69a"/>
<line x1="732.77" y1="269.2" x2="732.77" y2="282.6" stroke="#ef5350" stroke-width="1.1"/>
<rect x="731.57" y="273.4" width="2.4" height="5.0" fill="#ef5350"/>
<line x1="736.45" y1="271.0" x2="736.45" y2="281.0" stroke="#26a69a" stroke-width="1.1"/>
<rect x="735.25" y="275.0" width="2.4" height="4.3" fill="#26a69a"/>
<line x1="740.13" y1="255.0" x2="740.13" y2="276.8" stroke="#26a69a" stroke-width="1.1"/>
<rect x="738.93" y="257.6" width="2.4" height="18.4" fill="#26a69a"/>
<line x1="743.81" y1="217.5" x2="743.81" y2="258.4" stroke="#26a69a" stroke-width="1.1"/>
<rect x="742.61" y="218.4" width="2.4" height="39.2" fill="#26a69a"/>
<line x1="747.49" y1="210.4" x2="747.49" y2="235.8" stroke="#ef5350" stroke-width="1.1"/>
<rect x="746.29" y="217.9" width="2.4" height="10.4" fill="#ef5350"/>
<line x1="751.17" y1="219.6" x2="751.17" y2="235.0" stroke="#26a69a" stroke-width="1.1"/>
<rect x="749.97" y="225.8" width="2.4" height="3.0" fill="#26a69a"/>
<line x1="754.85" y1="213.3" x2="754.85" y2="228.8" stroke="#26a69a" stroke-width="1.1"/>
<rect x="753.65" y="217.9" width="2.4" height="8.8" fill="#26a69a"/>
<line x1="758.53" y1="168.4" x2="758.53" y2="219.2" stroke="#26a69a" stroke-width="1.1"/>
<rect x="757.33" y="180.1" width="2.4" height="38.3" fill="#26a69a"/>
<line x1="762.20" y1="159.2" x2="762.20" y2="186.8" stroke="#26a69a" stroke-width="1.1"/>
<rect x="761.00" y="160.0" width="2.4" height="19.3" fill="#26a69a"/>
<line x1="765.88" y1="159.2" x2="765.88" y2="176.8" stroke="#ef5350" stroke-width="1.1"/>
<rect x="764.68" y="160.0" width="2.4" height="15.0" fill="#ef5350"/>
<line x1="769.56" y1="161.7" x2="769.56" y2="182.6" stroke="#26a69a" stroke-width="1.1"/>
<rect x="768.36" y="168.4" width="2.4" height="7.6" fill="#26a69a"/>
<line x1="773.24" y1="145.9" x2="773.24" y2="202.6" stroke="#ef5350" stroke-width="1.1"/>
<rect x="772.04" y="169.3" width="2.4" height="20.7" fill="#ef5350"/>
<line x1="776.92" y1="183.4" x2="776.92" y2="196.8" stroke="#26a69a" stroke-width="1.1"/>
<rect x="775.72" y="185.0" width="2.4" height="6.0" fill="#26a69a"/>
<line x1="780.60" y1="165.9" x2="780.60" y2="187.6" stroke="#26a69a" stroke-width="1.1"/>
<rect x="779.40" y="180.0" width="2.4" height="6.0" fill="#26a69a"/>
<line x1="784.28" y1="160.0" x2="784.28" y2="184.3" stroke="#26a69a" stroke-width="1.1"/>
<rect x="783.08" y="173.4" width="2.4" height="7.6" fill="#26a69a"/>
<line x1="787.96" y1="165.0" x2="787.96" y2="186.8" stroke="#26a69a" stroke-width="1.1"/>
<rect x="786.76" y="168.4" width="2.4" height="5.0" fill="#26a69a"/>
<line x1="791.64" y1="166.7" x2="791.64" y2="209.3" stroke="#ef5350" stroke-width="1.1"/>
<rect x="790.44" y="168.4" width="2.4" height="28.4" fill="#ef5350"/>
<line x1="795.32" y1="181.5" x2="795.32" y2="209.0" stroke="#26a69a" stroke-width="1.1"/>
<rect x="794.12" y="195.5" width="2.4" height="1.5" fill="#26a69a"/>
<line x1="798.99" y1="169.2" x2="798.99" y2="203.0" stroke="#26a69a" stroke-width="1.1"/>
<rect x="797.79" y="175.1" width="2.4" height="21.6" fill="#26a69a"/>
<line x1="802.67" y1="136.7" x2="802.67" y2="176.0" stroke="#26a69a" stroke-width="1.1"/>
<rect x="801.47" y="155.0" width="2.4" height="20.0" fill="#26a69a"/>
<line x1="806.35" y1="128.4" x2="806.35" y2="158.4" stroke="#26a69a" stroke-width="1.1"/>
<rect x="805.15" y="140.0" width="2.4" height="15.0" fill="#26a69a"/>
<line x1="810.03" y1="127.5" x2="810.03" y2="180.1" stroke="#ef5350" stroke-width="1.1"/>
<rect x="808.83" y="140.0" width="2.4" height="39.3" fill="#ef5350"/>
<line x1="813.71" y1="169.2" x2="813.71" y2="193.5" stroke="#ef5350" stroke-width="1.1"/>
<rect x="812.51" y="178.6" width="2.4" height="5.9" fill="#ef5350"/>
<line x1="817.39" y1="184.7" x2="817.39" y2="205.4" stroke="#ef5350" stroke-width="1.1"/>
<rect x="816.19" y="186.2" width="2.4" height="7.4" fill="#ef5350"/>
<line x1="821.07" y1="173.3" x2="821.07" y2="208.8" stroke="#ef5350" stroke-width="1.1"/>
<rect x="819.87" y="193.0" width="2.4" height="14.6" fill="#ef5350"/>
<line x1="824.75" y1="204.2" x2="824.75" y2="231.7" stroke="#ef5350" stroke-width="1.1"/>
<rect x="823.55" y="206.7" width="2.4" height="14.2" fill="#ef5350"/>
<line x1="828.43" y1="217.5" x2="828.43" y2="238.4" stroke="#ef5350" stroke-width="1.1"/>
<rect x="827.23" y="220.9" width="2.4" height="13.3" fill="#ef5350"/>
<line x1="832.11" y1="219.2" x2="832.11" y2="237.6" stroke="#26a69a" stroke-width="1.1"/>
<rect x="830.91" y="222.6" width="2.4" height="11.6" fill="#26a69a"/>
<line x1="835.78" y1="205.0" x2="835.78" y2="225.0" stroke="#26a69a" stroke-width="1.1"/>
<rect x="834.58" y="208.4" width="2.4" height="15.0" fill="#26a69a"/>
<line x1="839.46" y1="207.5" x2="839.46" y2="231.7" stroke="#ef5350" stroke-width="1.1"/>
<rect x="838.26" y="208.4" width="2.4" height="17.5" fill="#ef5350"/>
<line x1="843.14" y1="220.7" x2="843.14" y2="233.3" stroke="#ef5350" stroke-width="1.1"/>
<rect x="841.94" y="225.3" width="2.4" height="0.9" fill="#ef5350"/>
<path d="M7.5,206.0 C9.4,202.9 8.6,203.8 13.3,196.8 C18.0,189.8 16.1,191.8 21.7,185.1 C27.3,178.4 24.4,180.8 30.0,176.8 C35.6,172.8 32.8,175.8 38.4,173.0 C44.0,170.2 41.2,171.7 46.7,168.4 C52.2,165.1 49.4,166.9 55.0,163.0 C60.6,159.1 57.8,160.7 63.4,156.8 C69.0,152.9 66.1,155.2 71.7,151.4 C77.3,147.6 74.5,149.4 80.1,145.5 C85.7,141.6 82.8,143.6 88.4,139.6 C94.0,135.6 91.2,137.4 96.8,133.4 C102.4,129.4 99.6,131.1 105.1,127.5 C110.6,123.9 107.8,125.3 113.4,122.5 C119.0,119.7 116.8,120.6 121.8,119.2 C126.8,117.8 123.5,118.3 128.5,118.3 C133.5,118.3 131.8,118.6 136.8,119.2 C141.8,119.8 138.5,119.4 143.5,120.2 C148.5,121.0 146.2,120.1 151.8,121.7 C157.4,123.3 154.1,122.4 160.2,125.0 C166.3,127.6 161.7,124.6 170.0,129.6 C178.3,134.6 175.5,133.2 185.0,140.0 C194.5,146.8 190.0,145.3 198.4,150.0 C206.8,154.7 202.9,151.4 210.1,154.2 C217.3,157.0 214.0,155.8 220.1,158.3 C226.2,160.8 222.8,158.9 228.4,161.7 C234.0,164.5 231.2,161.7 236.8,166.7 C242.4,171.7 239.5,170.3 245.1,176.7 C250.7,183.1 247.9,179.8 253.5,185.9 C259.1,192.0 256.3,189.3 261.8,195.1 C267.3,200.9 264.5,197.6 270.1,203.4 C275.7,209.2 273.5,206.7 278.5,212.6 C283.5,218.5 279.2,213.7 285.0,221.0 C290.8,228.3 288.2,224.8 296.0,234.5 C303.8,244.2 301.5,242.6 308.4,250.0 C315.3,257.4 311.1,252.0 316.7,256.7 C322.3,261.4 319.5,259.5 325.1,264.2 C330.7,268.9 327.9,266.5 333.4,270.9 C338.9,275.3 336.1,273.6 341.7,277.5 C347.3,281.4 345.1,280.1 350.1,282.6 C355.1,285.1 352.4,283.7 356.8,285.1 C361.2,286.5 358.4,285.0 363.4,286.7 C368.4,288.4 366.2,287.6 371.8,290.1 C377.4,292.6 374.5,290.9 380.1,294.2 C385.7,297.5 382.9,296.2 388.5,300.1 C394.1,304.0 391.3,302.6 396.8,305.9 C402.3,309.2 399.5,307.0 405.1,310.1 C410.7,313.2 407.9,311.8 413.5,315.1 C419.1,318.4 416.8,317.5 421.8,320.1 C426.8,322.7 423.5,321.0 428.5,322.9 C433.5,324.8 431.2,323.8 436.7,325.9 C442.2,328.0 440.9,327.7 445.0,329.3 C449.1,330.9 447.0,330.0 449.0,330.6 C451.0,331.2 449.6,331.1 450.9,331.2 C452.2,331.3 451.1,331.2 452.8,330.9 C454.5,330.6 452.4,331.1 455.9,330.2 C459.4,329.3 458.7,330.1 463.4,328.1 C468.1,326.1 465.0,327.5 470.0,324.3 C475.0,321.1 472.8,322.3 478.4,318.4 C484.0,314.5 481.1,315.9 486.7,312.6 C492.3,309.3 489.5,311.2 495.1,308.4 C500.7,305.6 497.8,307.5 503.4,304.2 C509.0,300.9 506.2,303.0 511.8,298.4 C517.4,293.8 514.6,295.4 520.1,290.5 C525.6,285.6 522.8,288.0 528.4,283.8 C534.0,279.6 531.2,281.8 536.8,278.0 C542.4,274.2 539.5,277.1 545.1,272.5 C550.7,267.9 547.9,269.5 553.5,264.3 C559.1,259.1 556.3,261.5 561.8,256.8 C567.3,252.1 564.6,254.2 570.1,250.1 C575.6,246.0 572.9,248.1 578.4,244.5 C583.9,240.9 581.2,242.5 586.7,239.3 C592.2,236.1 589.4,237.9 595.0,234.8 C600.6,231.7 597.8,233.1 603.4,230.1 C609.0,227.1 606.1,229.0 611.7,225.9 C617.3,222.8 614.5,224.5 620.1,220.9 C625.7,217.3 623.4,218.2 628.4,215.1 C633.4,212.0 630.7,213.0 635.1,211.7 C639.5,210.4 637.3,210.7 641.7,211.2 C646.1,211.7 643.4,211.4 648.4,213.1 C653.4,214.8 651.2,214.4 656.8,216.4 C662.4,218.4 659.6,217.1 665.1,219.2 C670.6,221.3 667.8,220.6 673.4,222.6 C679.0,224.6 676.2,223.2 681.8,225.1 C687.4,227.0 684.5,225.6 690.1,228.4 C695.7,231.2 692.9,230.1 698.5,233.4 C704.1,236.7 701.3,235.1 706.8,238.4 C712.3,241.7 709.5,240.3 715.1,243.4 C720.7,246.5 718.5,245.1 723.5,247.6 C728.5,250.1 726.4,249.0 730.2,251.0 C734.0,253.0 731.7,251.9 735.0,253.5 C738.3,255.1 736.1,254.7 740.0,255.9 C743.9,257.1 742.2,256.5 746.7,257.1 C751.2,257.7 749.0,257.7 753.4,257.6 C757.8,257.5 755.6,257.6 760.0,256.8 C764.4,256.0 761.7,256.3 766.7,255.1 C771.7,253.9 769.5,254.8 775.1,253.1 C780.7,251.4 777.9,251.9 783.4,250.1 C788.9,248.3 786.7,249.5 791.7,247.6 C796.7,245.7 793.9,246.5 798.4,244.3 C802.9,242.1 800.6,242.6 805.1,240.9 C809.6,239.2 806.8,240.0 811.8,239.2 C816.8,238.4 814.6,239.1 820.1,238.4 C825.6,237.7 822.8,238.3 828.4,237.2 C834.0,236.1 832.1,236.4 836.8,235.1 C841.5,233.8 840.5,233.8 842.4,233.2" fill="none" stroke="#f23645" stroke-width="2.25" stroke-linejoin="round" stroke-linecap="round"/>
<path d="M7.5,142.6 C8.9,140.4 9.2,139.2 11.7,135.9 C14.2,132.6 12.2,134.1 15.0,132.6 C17.8,131.1 16.7,131.6 20.0,131.4 C23.3,131.2 21.7,131.9 25.0,132.1 C28.3,132.3 26.1,133.2 30.0,132.1 C33.9,131.0 32.8,129.6 36.7,128.9 C40.6,128.2 37.8,128.5 41.7,130.1 C45.6,131.7 44.0,134.1 48.4,133.8 C52.8,133.5 50.6,132.7 55.0,129.2 C59.4,125.7 57.2,127.1 61.7,123.4 C66.2,119.7 64.5,120.2 68.4,118.1 C72.3,116.0 69.5,119.5 73.4,117.1 C77.3,114.7 75.7,113.4 80.1,110.9 C84.5,108.4 82.8,110.3 86.7,109.7 C90.6,109.1 87.9,111.3 91.8,109.2 C95.7,107.1 94.0,107.6 98.4,103.4 C102.8,99.2 100.6,100.2 105.1,96.7 C109.6,93.2 107.9,94.8 111.8,93.0 C115.7,91.2 113.8,92.3 116.8,91.4 C119.8,90.5 118.4,89.7 120.9,90.4 C123.4,91.1 121.2,89.9 124.3,93.4 C127.4,96.9 125.9,95.3 130.1,100.9 C134.3,106.5 132.9,105.3 136.8,110.1 C140.7,114.9 138.5,111.2 141.8,115.4 C145.1,119.6 142.9,117.1 146.8,122.6 C150.7,128.1 149.0,125.7 153.5,131.8 C158.0,137.9 156.3,135.1 160.2,140.9 C164.1,146.7 161.9,144.0 165.2,149.3 C168.5,154.6 167.3,152.7 170.0,156.8 C172.7,160.9 170.3,155.1 173.4,161.7 C176.5,168.3 174.8,167.0 179.2,176.7 C183.6,186.4 181.4,181.4 186.7,190.9 C192.0,200.4 189.5,197.9 195.1,205.1 C200.7,212.3 197.8,208.2 203.4,212.6 C209.0,217.0 206.2,214.2 211.8,218.4 C217.4,222.6 214.6,220.4 220.1,225.1 C225.6,229.8 222.8,229.2 228.4,232.6 C234.0,236.0 231.2,232.6 236.8,235.4 C242.4,238.2 239.5,238.0 245.1,241.0 C250.7,244.0 247.9,242.6 253.5,244.3 C259.1,246.0 257.4,245.2 261.8,246.0 C266.2,246.8 264.0,244.9 266.8,246.8 C269.6,248.7 266.3,247.8 270.1,251.7 C273.9,255.6 272.8,253.0 278.3,258.6 C283.8,264.2 281.1,261.5 286.7,268.4 C292.3,275.3 289.4,271.7 295.0,279.2 C300.6,286.7 297.8,282.8 303.4,290.9 C309.0,299.0 306.2,296.7 311.7,303.4 C317.2,310.1 314.4,307.0 320.0,310.9 C325.6,314.8 323.9,312.9 328.4,315.1 C332.9,317.3 330.1,315.1 333.4,317.6 C336.7,320.1 335.1,319.8 338.4,322.6 C341.7,325.4 339.5,324.5 343.4,326.0 C347.3,327.5 345.6,326.8 350.1,327.1 C354.6,327.4 351.8,327.0 356.8,326.8 C361.8,326.6 359.6,327.3 365.1,326.5 C370.6,325.7 367.8,325.3 373.4,324.3 C379.0,323.3 376.8,323.6 381.8,323.5 C386.8,323.4 384.1,322.6 388.5,324.0 C392.9,325.4 390.1,325.3 395.1,327.6 C400.1,329.9 397.9,329.5 403.5,331.0 C409.1,332.5 406.8,331.8 411.8,332.1 C416.8,332.4 414.0,330.6 418.5,331.8 C423.0,333.0 421.3,333.1 425.2,335.6 C429.1,338.1 426.4,337.1 430.2,339.3 C434.0,341.5 432.3,340.8 436.7,342.3 C441.1,343.8 439.5,343.1 443.4,343.8 C447.3,344.5 445.4,344.4 448.4,344.3 C451.4,344.2 449.7,345.2 452.5,343.5 C455.3,341.8 453.6,342.9 456.7,339.3 C459.8,335.7 458.4,337.9 461.7,332.6 C465.0,327.3 463.4,330.1 466.7,323.4 C470.0,316.7 468.4,319.5 471.7,312.6 C475.0,305.7 473.4,308.7 476.7,302.6 C480.0,296.5 478.4,299.8 481.7,294.2 C485.0,288.6 483.4,290.9 486.7,285.9 C490.0,280.9 488.4,283.9 491.7,279.2 C495.0,274.5 493.4,277.0 496.7,271.8 C500.0,266.6 498.3,269.1 501.7,263.5 C505.1,257.9 503.4,261.5 506.8,255.1 C510.2,248.7 508.5,251.8 511.8,244.3 C515.1,236.8 513.5,240.4 516.8,232.6 C520.1,224.8 518.5,228.3 521.8,220.9 C525.1,213.5 523.5,216.0 526.8,210.5 C530.1,205.0 528.5,207.3 531.8,204.5 C535.1,201.7 532.9,203.6 536.8,202.0 C540.7,200.4 539.1,201.5 543.5,199.7 C547.9,197.9 545.7,198.8 550.1,196.7 C554.5,194.6 552.3,195.4 556.8,193.3 C561.3,191.2 559.1,192.5 563.5,190.5 C567.9,188.5 565.6,188.9 570.0,187.3 C574.4,185.7 572.9,186.7 576.7,185.6 C580.5,184.5 578.2,183.4 581.5,184.0 C584.8,184.6 582.2,183.8 586.7,187.5 C591.2,191.2 589.4,190.0 595.0,195.0 C600.6,200.0 597.8,197.5 603.4,202.5 C609.0,207.5 606.1,204.8 611.7,210.1 C617.3,215.4 614.5,213.9 620.1,218.4 C625.7,222.9 622.9,220.4 628.4,223.7 C633.9,227.0 631.1,224.9 636.7,228.4 C642.3,231.9 639.5,230.1 645.1,234.3 C650.7,238.5 647.8,236.7 653.4,240.9 C659.0,245.1 656.2,242.6 661.8,246.8 C667.4,251.0 664.6,248.5 670.1,253.5 C675.6,258.5 672.8,257.6 678.4,261.8 C684.0,266.0 681.2,262.9 686.8,266.0 C692.4,269.1 689.5,267.7 695.1,271.0 C700.7,274.3 699.0,272.9 703.5,275.8 C708.0,278.7 705.2,277.4 708.5,279.7 C711.8,282.0 709.6,281.1 713.5,282.6 C717.4,284.1 715.7,283.3 720.1,284.2 C724.5,285.1 722.3,284.9 726.7,285.3 C731.1,285.7 728.9,286.1 733.3,285.5 C737.7,284.9 736.1,285.6 740.0,283.5 C743.9,281.4 741.7,282.6 745.0,279.3 C748.3,276.0 746.7,277.4 750.0,273.5 C753.3,269.6 751.7,271.8 755.0,267.6 C758.3,263.4 756.7,266.3 760.0,261.0 C763.3,255.7 761.7,257.7 765.0,251.8 C768.3,245.9 766.6,248.7 770.0,243.4 C773.4,238.1 771.7,240.9 775.1,235.9 C778.5,230.9 776.8,233.1 780.1,228.4 C783.4,223.7 781.8,225.9 785.1,221.7 C788.4,217.5 786.8,219.5 790.1,215.9 C793.4,212.3 791.8,215.0 795.1,210.9 C798.4,206.8 796.8,208.6 800.1,203.5 C803.4,198.4 802.3,200.0 805.1,195.5 C807.9,191.0 805.6,193.6 808.4,190.1 C811.2,186.6 810.1,187.6 813.4,185.1 C816.7,182.6 815.1,183.6 818.4,182.6 C821.7,181.6 820.1,182.1 823.4,182.1 C826.7,182.1 825.1,181.6 828.4,182.6 C831.7,183.6 830.1,182.9 833.4,185.1 C836.7,187.3 835.4,186.7 838.4,189.3 C841.4,191.9 841.1,191.6 842.4,192.8" fill="none" stroke="#2a66f0" stroke-width="2.25" stroke-linejoin="round" stroke-linecap="round"/>
<line x1="471.3" y1="141.4" x2="934.5" y2="141.4" stroke="#0a0ae6" stroke-width="2.4" stroke-dasharray="10.8 13.0"/>
<line x1="581.7" y1="216.4" x2="934.5" y2="216.4" stroke="#0a0ae6" stroke-width="2.4" stroke-dasharray="10.8 13.0"/>
</g>
<circle cx="843.5" cy="397.1" r="7.0" fill="#fff" stroke="#8a4fa8" stroke-width="1.05"/>
<path d="M844.8,393.20000000000005 L840.6,398.0 L843.1,398.0 L842.0,401.0 L846.2,396.20000000000005 L843.7,396.20000000000005 Z" fill="#a63cc6"/>
<circle cx="848.4" cy="392.1" r="2.6" fill="#fff"/>
<circle cx="848.4" cy="392.1" r="1.8" fill="#e5484f"/>
<g clip-path="url(#cr)">
<path d="M456.1,430.4 L456.8,426.7 L460.5,417.6 L464.2,414.3 L467.9,414.1 L471.6,413.2 L475.2,415.8 L478.9,416.3 L482.6,419.1 L486.3,417.6 L489.5,430.4 Z" fill="url(#ob)" />
<path d="M510.5,430.4 L512.0,417.6 L515.7,424.9 L519.4,419.7 L523.1,428.4 L524.5,430.4 Z" fill="url(#ob)" />
<path d="M529.9,430.4 L530.4,429.9 L530.6,430.4 Z" fill="url(#ob)" />
<path d="M757.7,430.4 L758.5,426.7 L762.2,418.7 L765.4,430.4 Z" fill="url(#ob)" />
<path d="M8.0,449.4 C10.4,449.4 10.6,447.6 15.2,449.4 C19.7,451.2 17.3,450.9 21.7,454.8 C26.0,458.8 23.8,457.4 28.2,461.3 C32.5,465.3 30.3,464.0 34.7,466.8 C39.0,469.5 36.8,468.8 41.2,469.6 C45.5,470.3 43.3,470.4 47.7,468.9 C52.0,467.5 49.1,467.6 54.2,465.2 C59.2,462.9 57.1,463.6 62.8,461.8 C68.6,459.9 65.7,460.6 71.5,459.6 C77.3,458.6 74.4,459.2 80.2,458.7 C86.0,458.2 83.1,458.4 88.8,458.1 C94.6,457.7 92.5,456.9 97.5,457.7 C102.6,458.4 99.0,457.6 104.0,460.3 C109.1,462.9 106.9,462.1 112.7,465.7 C118.5,469.3 115.6,467.5 121.3,471.1 C127.1,474.7 124.2,472.9 130.0,476.5 C135.8,480.1 132.9,478.0 138.7,481.9 C144.5,485.9 141.6,485.2 147.3,488.4 C153.1,491.7 150.2,489.1 156.0,491.7 C161.8,494.2 158.9,493.1 164.7,496.0 C170.5,498.9 167.6,497.6 173.3,500.3 C179.1,503.1 177.0,502.4 182.0,504.2 C187.1,506.0 184.2,505.6 188.5,505.8 C192.8,505.9 189.2,506.1 195.0,504.7 C200.8,503.2 199.5,503.2 206.0,501.4 C212.6,499.6 208.9,500.3 214.7,499.3 C220.4,498.2 217.6,500.0 223.3,498.2 C229.1,496.4 226.9,496.4 232.0,493.8 C237.1,491.3 234.2,491.5 238.5,490.6 C242.8,489.7 239.9,490.5 245.0,491.2 C250.1,492.0 247.9,491.5 253.7,492.8 C259.5,494.0 256.6,493.5 262.3,494.9 C268.1,496.4 265.2,496.0 271.0,497.1 C276.8,498.2 273.9,497.1 279.7,498.2 C285.5,499.3 282.6,498.5 288.3,500.3 C294.1,502.1 291.2,502.1 297.0,503.6 C302.8,505.0 299.9,504.2 305.7,504.7 C311.5,505.2 308.6,505.5 314.3,505.1 C320.1,504.7 317.2,504.8 323.0,503.6 C328.8,502.4 325.9,502.5 331.7,501.4 C337.5,500.3 334.6,502.1 340.3,500.3 C346.1,498.5 344.0,499.3 349.0,496.0 C354.1,492.8 351.2,493.6 355.5,490.6 C359.8,487.6 357.0,488.9 362.0,486.9 C367.1,485.0 364.7,485.0 370.7,484.7 C376.7,484.5 374.9,486.3 380.0,486.3 C385.1,486.3 381.1,484.7 386.0,484.7 C390.9,484.7 388.9,484.3 394.7,486.3 C400.4,488.2 397.6,488.4 403.3,490.6 C409.1,492.8 406.2,492.4 412.0,492.8 C417.8,493.1 414.9,492.4 420.7,491.7 C426.4,491.0 423.6,491.3 429.3,490.6 C435.1,489.9 432.2,491.0 438.0,489.5 C443.8,488.1 441.6,489.5 446.7,486.3 C451.7,483.0 448.8,484.8 453.2,479.8 C457.5,474.7 455.3,476.9 459.7,471.1 C464.0,465.3 461.8,468.2 466.2,462.4 C470.5,456.6 468.3,459.5 472.7,453.8 C477.0,448.0 474.8,450.6 479.2,445.1 C483.5,439.5 481.3,441.8 485.7,437.1 C490.0,432.4 487.8,434.3 492.2,431.0 C496.5,427.7 494.3,428.7 498.7,427.1 C503.0,425.5 500.8,425.8 505.2,426.2 C509.5,426.7 507.3,427.4 511.7,428.4 C516.0,429.4 513.8,428.5 518.2,429.3 C522.5,430.0 520.3,429.8 524.7,430.6 C529.0,431.3 526.8,429.8 531.2,431.4 C535.5,433.0 533.3,433.3 537.7,435.3 C542.0,437.4 539.8,436.4 544.2,437.5 C548.5,438.6 545.4,438.0 550.7,438.6 C556.0,439.2 554.9,437.4 560.0,439.2 C565.1,441.0 561.1,439.5 566.0,444.0 C570.9,448.5 568.9,446.9 574.7,452.7 C580.4,458.4 577.6,455.9 583.3,461.3 C589.1,466.8 586.2,463.9 592.0,468.9 C597.8,474.0 594.9,471.1 600.7,476.5 C606.4,481.9 604.3,480.5 609.3,485.2 C614.4,489.9 611.5,488.3 615.8,490.6 C620.2,492.9 617.3,491.9 622.3,492.1 C627.4,492.3 625.2,491.4 631.0,491.2 C636.8,491.1 633.9,491.4 639.7,491.7 C645.5,492.0 642.6,491.7 648.3,492.1 C654.1,492.5 651.2,492.2 657.0,492.8 C662.8,493.3 659.9,492.0 665.7,493.8 C671.5,495.6 668.6,495.3 674.3,498.2 C680.1,501.1 677.2,500.0 683.0,502.5 C688.8,505.0 685.9,504.9 691.7,505.8 C697.5,506.6 694.6,506.6 700.3,505.1 C706.1,503.7 703.2,504.1 709.0,501.4 C714.8,498.8 711.9,500.3 717.7,497.1 C723.5,493.8 720.6,495.6 726.3,491.7 C732.1,487.7 728.5,492.4 735.0,485.2 C741.6,478.0 739.5,478.0 746.0,470.0 C752.6,462.1 748.9,466.8 754.7,461.3 C760.4,455.9 757.6,458.2 763.3,453.8 C769.1,449.3 766.2,451.5 772.0,447.9 C777.8,444.3 774.9,445.7 780.7,442.9 C786.4,440.2 784.3,440.4 789.3,439.7 C794.4,438.9 790.8,440.0 795.8,440.8 C800.9,441.5 799.5,439.7 804.5,441.8 C809.6,444.0 806.0,443.3 811.0,447.3 C816.1,451.2 813.9,449.4 819.7,453.8 C825.5,458.1 822.6,455.9 828.3,460.3 C834.1,464.6 832.3,463.4 837.0,466.8 C841.7,470.1 840.6,469.2 842.4,470.4" fill="none" stroke="#f7d95c" stroke-width="1.1" stroke-opacity="0.85" stroke-linejoin="round"/>
<path d="M8.0,466.8 L11.7,452.7 L15.4,458.1 L19.0,463.5 L22.7,475.4 L26.4,480.4 L30.1,475.4 L33.8,480.4 L37.4,476.1 L41.1,478.7 L44.8,470.0 L48.5,467.8 L52.2,442.9 L55.8,434.7 L59.5,437.1 L63.2,445.1 L66.9,461.8 L70.6,458.1 L74.2,465.2 L77.9,451.6 L81.6,459.2 L85.3,469.6 L88.9,470.0 L92.6,476.9 L96.3,467.4 L100.0,470.0 L103.7,466.8 L107.3,460.3 L111.0,482.6 L114.7,486.9 L118.4,476.1 L122.1,484.1 L125.7,491.2 L129.4,494.9 L133.1,497.1 L136.8,506.4 L140.5,501.4 L144.1,511.6 L147.8,509.0 L151.5,486.3 L155.2,487.3 L158.8,501.4 L162.5,514.0 L166.2,497.7 L169.9,498.6 L173.6,505.1 L177.2,511.6 L180.9,515.9 L184.6,513.3 L188.3,515.1 L192.0,502.5 L195.6,494.9 L199.3,483.0 L203.0,487.3 L206.7,483.4 L210.4,489.5 L214.0,496.0 L217.7,498.6 L221.4,504.7 L225.1,494.3 L228.8,481.3 L232.4,489.1 L236.1,481.3 L239.8,483.4 L243.5,506.4 L247.1,499.3 L250.8,502.1 L254.5,505.8 L258.2,503.6 L261.9,503.6 L265.5,479.8 L269.2,504.2 L272.9,507.3 L276.6,501.4 L280.3,494.9 L283.9,500.8 L287.6,505.1 L291.3,512.3 L295.0,518.8 L298.7,510.1 L302.3,505.8 L306.0,510.1 L309.7,500.3 L313.4,498.2 L317.0,503.6 L320.7,493.4 L324.4,497.1 L328.1,485.2 L331.8,491.7 L335.4,496.0 L339.1,495.6 L342.8,493.4 L346.5,485.6 L350.2,480.4 L353.8,468.9 L357.5,459.2 L361.2,476.9 L364.9,489.5 L368.6,487.3 L372.2,491.7 L375.9,481.9 L379.6,488.4 L383.3,491.0 L386.9,491.7 L390.6,494.9 L394.3,510.7 L398.0,502.1 L401.7,506.4 L405.3,483.4 L409.0,489.5 L412.7,484.1 L416.4,473.9 L420.1,481.3 L423.7,484.1 L427.4,491.2 L431.1,492.8 L434.8,487.3 L438.5,486.9 L442.1,484.1 L445.8,486.9 L449.5,479.8 L453.2,445.1 L456.8,426.7 L460.5,417.6 L464.2,414.3 L467.9,414.1 L471.6,413.2 L475.2,415.8 L478.9,416.3 L482.6,419.1 L486.3,417.6 L490.0,432.1 L493.6,442.3 L497.3,447.9 L501.0,439.2 L504.7,447.3 L508.4,448.8 L512.0,417.6 L515.7,424.9 L519.4,419.7 L523.1,428.4 L526.7,433.6 L530.4,429.9 L534.1,442.3 L537.8,448.8 L541.5,454.4 L545.1,453.1 L548.8,445.1 L552.5,454.4 L556.2,453.1 L559.9,449.0 L563.5,453.1 L567.2,479.1 L570.9,475.4 L574.6,478.2 L578.3,486.3 L581.9,471.7 L585.6,476.9 L589.3,483.0 L593.0,504.7 L596.6,498.6 L600.3,491.7 L604.0,492.1 L607.7,497.1 L611.4,502.9 L615.0,516.6 L618.7,492.8 L622.4,488.9 L626.1,489.5 L629.8,472.6 L633.4,469.6 L637.1,478.7 L640.8,490.6 L644.5,498.2 L648.2,504.7 L651.8,498.6 L655.5,500.3 L659.2,509.4 L662.9,510.1 L666.6,510.1 L670.2,516.6 L673.9,523.1 L677.6,529.6 L681.3,492.8 L684.9,494.3 L688.6,499.3 L692.3,505.8 L696.0,495.6 L699.7,488.4 L703.3,480.8 L707.0,489.1 L710.7,496.0 L714.4,476.9 L718.1,469.4 L721.7,479.8 L725.4,478.2 L729.1,477.2 L732.8,481.5 L736.5,477.6 L740.1,458.1 L743.8,439.7 L747.5,448.3 L751.2,447.9 L754.8,442.9 L758.5,426.7 L762.2,418.7 L765.9,432.1 L769.6,430.6 L773.2,448.3 L776.9,445.7 L780.6,442.9 L784.3,439.7 L788.0,437.5 L791.6,461.8 L795.3,461.8 L799.0,449.4 L802.7,438.6 L806.4,432.7 L810.0,462.4 L813.7,468.9 L817.4,473.3 L821.1,479.8 L824.7,486.9 L828.4,494.5 L832.1,486.9 L835.8,478.7 L839.5,488.0 L843.1,488.4" fill="none" stroke="#7e57c2" stroke-width="2.3" stroke-linejoin="round" stroke-linecap="round"/>
</g>
</svg>
<div class="t" id="t1" style="left:7.5px;top:4.6px;font-size:8.7px;color:#131722;font-weight:normal;letter-spacing:-0.033px;">ranadagger created with TradingView.com, Aug 06, 2025 14:26 UTC</div><div class="t" id="t2" style="left:13px;top:24.3px;font-size:8.6px;color:#131722;font-weight:normal;letter-spacing:-0.222px;">SUI / TetherUS · 1D · BINANCE</div><div class="t" id="t3" style="left:134.5px;top:24.3px;font-size:8.6px;color:#131722;font-weight:normal;letter-spacing:-0.143px;">O<span style="color:#ef5350">3.4111</span></div><div class="t" id="t4" style="left:171.5px;top:24.3px;font-size:8.6px;color:#131722;font-weight:normal;letter-spacing:-0.259px;">H<span style="color:#ef5350">3.4601</span></div><div class="t" id="t5" style="left:208.3px;top:24.3px;font-size:8.6px;color:#131722;font-weight:normal;letter-spacing:-0.311px;">L<span style="color:#ef5350">3.3272</span></div><div class="t" id="t6" style="left:243.1px;top:24.3px;font-size:8.6px;color:#131722;font-weight:normal;letter-spacing:-0.231px;">C<span style="color:#ef5350">3.4076</span></div><div class="t" id="t7" style="left:280.5px;top:24.3px;font-size:8.6px;color:#131722;font-weight:normal;letter-spacing:-0.245px;"><span style="color:#ef5350">−0.0034 (−0.10%)</span></div><div class="t" id="t8" style="left:13px;top:36.4px;font-size:8.6px;color:#131722;font-weight:normal;letter-spacing:-0.162px;">MA Cross (20, 50)</div><div class="t" id="t9" style="left:84.9px;top:36.4px;font-size:8.6px;color:#2a66f0;font-weight:normal;letter-spacing:-0.099px;">3.7546</div><div class="t" id="t10" style="left:116.3px;top:36.4px;font-size:8.6px;color:#f23645;font-weight:normal;letter-spacing:-0.099px;">3.3290</div><div class="t" id="t11" style="left:13.1px;top:411.7px;font-size:8.6px;color:#131722;font-weight:normal;letter-spacing:-0.176px;">RSI (14, close)</div><div class="t" id="t12" style="left:73.7px;top:411.7px;font-size:8.6px;color:#7e57c2;font-weight:normal;letter-spacing:-0.143px;">44.80</div><div class="t" id="t13" style="left:99.6px;top:411.7px;font-size:8.6px;color:#fdd835;font-weight:normal;letter-spacing:-0.063px;">52.40</div><div style="position:absolute;left:937px;top:22.7px;width:41.5px;height:17.8px;border:1px solid #e0e3eb;border-radius:2px;box-sizing:border-box"></div><div class="t" id="t14" style="left:944px;top:26.2px;font-size:7.8px;color:#131722;font-weight:normal;letter-spacing:-0.459px;">USDT</div><div class="t" id="t15" style="left:940.8px;top:68.8px;font-size:8.6px;color:#131722;font-weight:normal;letter-spacing:-0.133px;">5.0000</div><div class="t" id="t16" style="left:940.8px;top:116.3px;font-size:8.6px;color:#131722;font-weight:normal;letter-spacing:-0.133px;">4.5000</div><div class="t" id="t17" style="left:940.8px;top:163.8px;font-size:8.6px;color:#131722;font-weight:normal;letter-spacing:-0.133px;">4.0000</div><div class="t" id="t18" style="left:940.8px;top:211.4px;font-size:8.6px;color:#131722;font-weight:normal;letter-spacing:-0.133px;">3.5000</div><div class="t" id="t19" style="left:940.8px;top:258.9px;font-size:8.6px;color:#131722;font-weight:normal;letter-spacing:-0.133px;">3.0000</div><div class="t" id="t20" style="left:940.8px;top:306.4px;font-size:8.6px;color:#131722;font-weight:normal;letter-spacing:-0.133px;">2.5000</div><div class="t" id="t21" style="left:940.8px;top:353.9px;font-size:8.6px;color:#131722;font-weight:normal;letter-spacing:-0.133px;">2.0000</div><div style="position:absolute;left:935px;top:407.3px;width:47px;height:128.5px;overflow:hidden"><div class="t" id="t22" style="left:6.1px;top:-6.4px;font-size:8.6px;color:#131722;font-weight:normal;letter-spacing:-0.043px;">80.00</div><div class="t" id="t23" style="left:6.1px;top:16.8px;font-size:8.6px;color:#131722;font-weight:normal;letter-spacing:-0.043px;">70.00</div><div class="t" id="t24" style="left:6.1px;top:40.0px;font-size:8.6px;color:#131722;font-weight:normal;letter-spacing:-0.043px;">60.00</div><div class="t" id="t25" style="left:6.1px;top:63.1px;font-size:8.6px;color:#131722;font-weight:normal;letter-spacing:-0.043px;">50.00</div><div class="t" id="t26" style="left:6.1px;top:86.2px;font-size:8.6px;color:#131722;font-weight:normal;letter-spacing:-0.043px;">40.00</div><div class="t" id="t27" style="left:6.1px;top:109.4px;font-size:8.6px;color:#131722;font-weight:normal;letter-spacing:-0.043px;">30.00</div></div><div class="t" id="t28" style="left:35.099999999999994px;top:540.4px;font-size:8.6px;color:#131722;font-weight:bold;letter-spacing:0.069px;">2025</div><div class="t" id="t29" style="left:151.79899999999998px;top:540.4px;font-size:8.6px;color:#131722;font-weight:normal;letter-spacing:-0.238px;">Feb</div><div class="t" id="t30" style="left:255.06099999999998px;top:540.4px;font-size:8.6px;color:#131722;font-weight:normal;letter-spacing:-0.404px;">Mar</div><div class="t" id="t31" style="left:369.26px;top:540.4px;font-size:8.6px;color:#131722;font-weight:normal;letter-spacing:-0.025px;">Apr</div><div class="t" id="t32" style="left:478.47999999999996px;top:540.4px;font-size:8.6px;color:#131722;font-weight:normal;letter-spacing:-0.217px;">May</div><div class="t" id="t33" style="left:593.579px;top:540.4px;font-size:8.6px;color:#131722;font-weight:normal;letter-spacing:-0.120px;">Jun</div><div class="t" id="t34" style="left:705.199px;top:540.4px;font-size:8.6px;color:#131722;font-weight:normal;letter-spacing:0.000px;">Jul</div><div class="t" id="t35" style="left:817.4979999999999px;top:540.4px;font-size:8.6px;color:#131722;font-weight:normal;letter-spacing:-0.266px;">Aug</div><div style="position:absolute;left:935.2px;top:135.6px;width:34.8px;height:11.6px;background:#0a0ae6;border-radius:1px;"></div><div class="t" id="t36" style="left:941.3px;top:135.4px;font-size:8.6px;color:#fff;font-weight:normal;letter-spacing:-0.216px;-webkit-text-stroke:0.25px #fff;">4.3000</div><div style="position:absolute;left:856.3px;top:187.8px;width:77.7px;height:11.7px;background:#2f7de6;border-radius:1px;"></div><div class="t" id="t37" style="left:860.2px;top:187.7px;font-size:8.6px;color:#fff;font-weight:normal;letter-spacing:-0.233px;-webkit-text-stroke:0.25px #fff;">MA Cross:Short MA</div><div style="position:absolute;left:935.2px;top:187.8px;width:34.8px;height:11.7px;background:#2f7de6;border-radius:1px;"></div><div class="t" id="t38" style="left:941.3px;top:187.7px;font-size:8.6px;color:#fff;font-weight:normal;letter-spacing:-0.216px;-webkit-text-stroke:0.25px #fff;">3.7546</div><div style="position:absolute;left:935.2px;top:208.2px;width:34.8px;height:12.0px;background:#0a0ae6;border-radius:1px;"></div><div class="t" id="t39" style="left:941.3px;top:208.2px;font-size:8.6px;color:#fff;font-weight:normal;letter-spacing:-0.216px;-webkit-text-stroke:0.25px #fff;">3.5100</div><div style="position:absolute;left:896.5px;top:220.5px;width:37.5px;height:11.7px;background:#ef5350;border-radius:1px;"></div><div class="t" id="t40" style="left:899.8px;top:220.8px;font-size:7.8px;color:#fff;font-weight:normal;letter-spacing:-0.391px;-webkit-text-stroke:0.25px #fff;">SUIUSDT</div><div style="position:absolute;left:935.2px;top:220.5px;width:42.6px;height:31.8px;background:#ef5350;border-radius:1px"></div><div class="t" id="t41" style="left:941.3px;top:220.8px;font-size:8.6px;color:#fff;font-weight:normal;letter-spacing:-0.216px;-webkit-text-stroke:0.25px #fff;">3.4076</div><div class="t" id="t42" style="left:941.3px;top:231.0px;font-size:8.6px;color:#fff;font-weight:normal;letter-spacing:-0.382px;-webkit-text-stroke:0.25px #fff;">−21.90%</div><div class="t" id="t43" style="left:941.3px;top:240.7px;font-size:8.6px;color:#fff;font-weight:normal;letter-spacing:-0.119px;opacity:0.72;">09:33:13</div><div style="position:absolute;left:859.7px;top:253px;width:74.3px;height:11.7px;background:#f23645;border-radius:1px;"></div><div class="t" id="t44" style="left:863px;top:252.9px;font-size:8.6px;color:#fff;font-weight:normal;letter-spacing:-0.327px;-webkit-text-stroke:0.25px #fff;">MA Cross:Long MA</div><div style="position:absolute;left:935.2px;top:253px;width:34.8px;height:11.7px;background:#f23645;border-radius:1px;"></div><div class="t" id="t45" style="left:941.3px;top:252.9px;font-size:8.6px;color:#fff;font-weight:normal;letter-spacing:-0.216px;-webkit-text-stroke:0.25px #fff;">3.3290</div><div style="position:absolute;left:877.4px;top:465.5px;width:56.6px;height:12.0px;background:#fdd835;border-radius:1px;"></div><div class="t" id="t46" style="left:880.6px;top:465.5px;font-size:8.6px;color:#131722;font-weight:normal;letter-spacing:-0.416px;">RSI-based MA</div><div style="position:absolute;left:935.2px;top:465.5px;width:30.8px;height:12.0px;background:#fdd835;border-radius:1px;"></div><div class="t" id="t47" style="left:941.1px;top:465.5px;font-size:8.6px;color:#131722;font-weight:normal;letter-spacing:-0.043px;">52.40</div><div style="position:absolute;left:916px;top:482.8px;width:18.0px;height:11.6px;background:#7e57c2;border-radius:1px;"></div><div class="t" id="t48" style="left:919.6px;top:482.9px;font-size:8.0px;color:#fff;font-weight:normal;letter-spacing:-0.581px;-webkit-text-stroke:0.25px #fff;">RSI</div><div style="position:absolute;left:935.2px;top:482.8px;width:30.8px;height:11.6px;background:#7e57c2;border-radius:1px;"></div><div class="t" id="t49" style="left:941.1px;top:482.6px;font-size:8.6px;color:#fff;font-weight:normal;letter-spacing:-0.043px;-webkit-text-stroke:0.25px #fff;">44.80</div><svg style="position:absolute;left:8.5px;top:572.6px" width="22" height="11" viewBox="0 0 36 18"><path d="M14 18H7V7H0V0h14v18zM28 18h-8l7.5-18h8L28 18z" fill="#131722"/><circle cx="20" cy="3.5" r="3.5" fill="#131722"/></svg><div class="t" id="tv" style="left:36px;top:568.2px;font-size:15.4px;line-height:20px;height:20px;color:#131722;font-weight:bold;letter-spacing:-0.398px">TradingView</div>
</body></html>
